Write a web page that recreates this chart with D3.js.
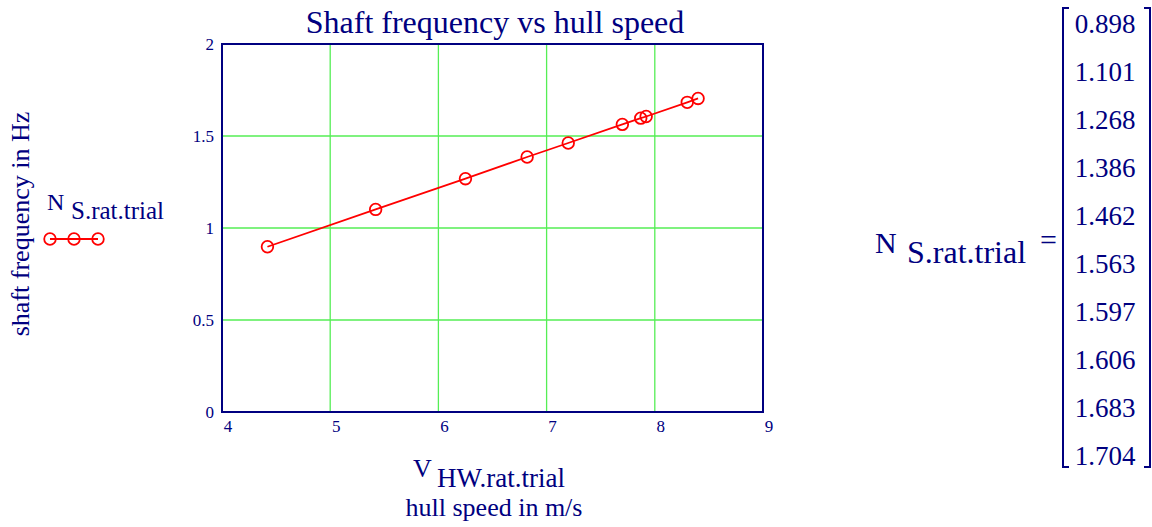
<!DOCTYPE html>
<html lang="en">
<head>
    <meta charset="UTF-8">
    <title>Shaft frequency vs hull speed</title>
    <script src="https://d3js.org/d3.v7.min.js"></script>
    <style>
        body { margin: 0; background: #fff; }
        text { font-family: "Liberation Serif", "Times New Roman", serif; fill: #000080; }
    </style>
</head>
<body>
<script>
    const width  = 1152;
    const height = 527;

    // V_HW.rat.trial (m/s) and N_S.rat.trial (Hz)
    const hullSpeed = [4.42, 5.42, 6.25, 6.82, 7.2, 7.7, 7.87, 7.92, 8.3, 8.4];
    const shaftFreq = [0.898, 1.101, 1.268, 1.386, 1.462, 1.563, 1.597, 1.606, 1.683, 1.704];
    const xTicks = [4, 5, 6, 7, 8, 9];
    const yTicks = [0, 0.5, 1, 1.5, 2];

    const navy = "#000080";
    const red = "#ff0000";
    const green = "#55ee55";

    const plot = {left: 222, right: 763, top: 44, bottom: 412};

    const scaleX = d3.scaleLinear().domain([4, 9]).range([plot.left, plot.right]);
    const scaleY = d3.scaleLinear().domain([0, 2]).range([plot.bottom, plot.top]);

    const svg = d3.select("body").append("svg").attr("width", width).attr("height", height);

    // grid
    const grid = svg.append("g").attr("stroke", green).attr("stroke-width", 1.3);
    grid.selectAll("line.gx").data(xTicks.slice(1, -1)).enter().append("line")
        .attr("x1", d => scaleX(d)).attr("x2", d => scaleX(d))
        .attr("y1", plot.top).attr("y2", plot.bottom);
    grid.selectAll("line.gy").data(yTicks.slice(1, -1)).enter().append("line")
        .attr("y1", d => scaleY(d)).attr("y2", d => scaleY(d))
        .attr("x1", plot.left).attr("x2", plot.right);

    // frame
    svg.append("rect")
        .attr("x", plot.left).attr("y", plot.top)
        .attr("width", plot.right - plot.left).attr("height", plot.bottom - plot.top)
        .attr("fill", "none").attr("stroke", navy).attr("stroke-width", 2);

    // tick labels
    svg.selectAll("text.xt").data(xTicks).enter().append("text")
        .attr("x", d => scaleX(d) + 6).attr("y", plot.bottom + 20)
        .attr("text-anchor", "middle").attr("font-size", 17)
        .text(d => d);
    svg.selectAll("text.yt").data(yTicks).enter().append("text")
        .attr("x", plot.left - 8).attr("y", d => scaleY(d) + 6)
        .attr("text-anchor", "end").attr("font-size", 17)
        .text(d => d);

    // series
    const pts = hullSpeed.map((v, i) => [v, shaftFreq[i]]);
    const line = d3.line().x(d => scaleX(d[0])).y(d => scaleY(d[1]));
    svg.append("path").datum(pts).attr("d", line)
        .attr("fill", "none").attr("stroke", red).attr("stroke-width", 1.8);
    svg.selectAll("circle.pt").data(pts).enter().append("circle")
        .attr("cx", d => scaleX(d[0])).attr("cy", d => scaleY(d[1])).attr("r", 5.8)
        .attr("fill", "none").attr("stroke", red).attr("stroke-width", 1.8);

    // title
    svg.append("text").attr("x", 495).attr("y", 33).attr("text-anchor", "middle")
        .attr("font-size", 32).text("Shaft frequency vs hull speed");

    // y label
    svg.append("text").attr("transform", "translate(29,224) rotate(-90)")
        .attr("text-anchor", "middle").attr("font-size", 26).text("shaft frequency in Hz");

    // legend
    svg.append("text").attr("x", 47).attr("y", 210).attr("font-size", 24).text("N");
    svg.append("text").attr("x", 71).attr("y", 219).attr("font-size", 25).text("S.rat.trial");
    const legX = [50, 74, 98];
    svg.append("line").attr("x1", legX[0]).attr("x2", legX[2]).attr("y1", 239).attr("y2", 239)
        .attr("stroke", red).attr("stroke-width", 1.8);
    svg.selectAll("circle.leg").data(legX).enter().append("circle")
        .attr("cx", d => d).attr("cy", 239).attr("r", 5.8)
        .attr("fill", "none").attr("stroke", red).attr("stroke-width", 1.8);

    // x label
    svg.append("text").attr("x", 413).attr("y", 477).attr("font-size", 26).text("V");
    svg.append("text").attr("x", 437).attr("y", 487).attr("font-size", 27).text("HW.rat.trial");
    svg.append("text").attr("x", 494).attr("y", 516).attr("text-anchor", "middle")
        .attr("font-size", 26).text("hull speed in m/s");

    // matrix display
    svg.append("text").attr("x", 875).attr("y", 253).attr("font-size", 30).text("N");
    svg.append("text").attr("x", 907).attr("y", 263).attr("font-size", 32).text("S.rat.trial");
    svg.append("text").attr("x", 1040).attr("y", 250).attr("font-size", 30).text("=");

    const bTop = 8, bBot = 467;
    const bracket = svg.append("g").attr("fill", "none").attr("stroke", navy).attr("stroke-width", 2);
    bracket.append("path").attr("d", `M1069,${bTop} H1063 V${bBot} H1069`);
    bracket.append("path").attr("d", `M1144,${bTop} H1150 V${bBot} H1144`);

    svg.selectAll("text.mv").data(shaftFreq).enter().append("text")
        .attr("x", 1105).attr("y", (d, i) => 33 + i * 48)
        .attr("text-anchor", "middle").attr("font-size", 27)
        .text(d => d3.format(".3f")(d));
</script>
</body>
</html>
